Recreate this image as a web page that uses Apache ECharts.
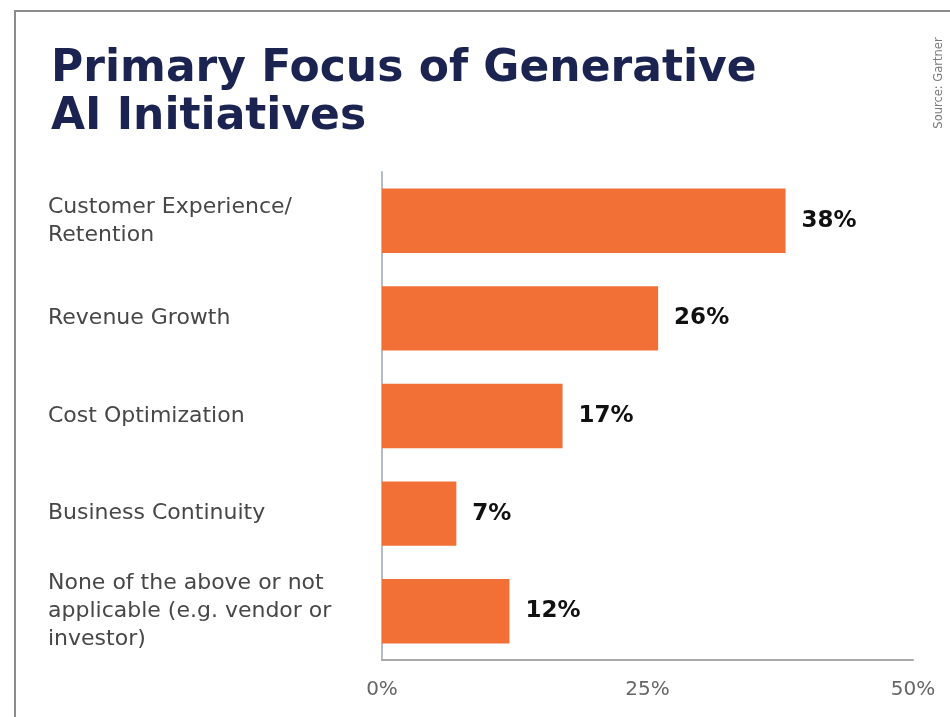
<!DOCTYPE html>
<html>
<head>
<meta charset="utf-8">
<style>
  html, body { margin: 0; padding: 0; background: #ffffff; }
  #chart { width: 950px; height: 717px; }
</style>
<script src="https://cdn.jsdelivr.net/npm/echarts@6/dist/echarts.min.js"></script>
</head>
<body>
<div id="chart"></div>
<script>
// Survey answers: primary focus of generative AI initiatives (share of respondents, %)
const categories = [
  'Customer Experience/\nRetention',
  'Revenue Growth',
  'Cost Optimization',
  'Business Continuity',
  'None of the above or not\napplicable (e.g. vendor or\ninvestor)'
];
const shares = [38, 26, 17, 7, 12];
const axisTicks = [0, 25, 50];

const NAVY = '#1b2350';
const ORANGE = '#f26f36';

const chart = echarts.init(document.getElementById('chart'), null, { renderer: 'canvas' });

chart.setOption({
  backgroundColor: '#ffffff',
  animation: false,
  title: {
    text: 'Primary Focus of Generative\nAI Initiatives',
    left: 46,
    top: 41,
    textStyle: {
      fontFamily: 'DejaVu Sans',
      fontWeight: 'bold',
      fontSize: 44,
      lineHeight: 48,
      color: NAVY
    }
  },
  graphic: [
    {
      type: 'rect',
      shape: { x: 15, y: 11, width: 960, height: 730 },
      style: { fill: 'none', stroke: '#8c8c8c', lineWidth: 2 },
      silent: true
    },
    {
      type: 'text',
      x: 939,
      y: 83,
      rotation: Math.PI / 2,
      style: {
        text: 'Source: Gartner',
        fontFamily: 'DejaVu Sans',
        fontSize: 11.5,
        fill: '#7a7a7a',
        align: 'center',
        verticalAlign: 'middle'
      },
      silent: true
    }
  ],
  grid: {
    left: 382,
    right: 37,
    top: 172,
    bottom: 57,
    containLabel: false
  },
  xAxis: {
    type: 'value',
    min: axisTicks[0],
    max: axisTicks[axisTicks.length - 1],
    interval: axisTicks[1] - axisTicks[0],
    axisLine: { show: true, lineStyle: { color: '#a9a9a9', width: 2 } },
    axisTick: { show: false },
    splitLine: { show: false },
    axisLabel: {
      margin: 20,
      formatter: v => v + '%',
      fontFamily: 'DejaVu Sans',
      fontSize: 20,
      color: '#666666'
    }
  },
  yAxis: {
    type: 'category',
    inverse: true,
    data: categories,
    axisLine: { show: true, lineStyle: { color: '#b4bccb', width: 2 } },
    axisTick: { show: false },
    axisLabel: {
      align: 'left',
      margin: 334,
      fontFamily: 'DejaVu Sans',
      fontSize: 22,
      lineHeight: 28,
      color: '#474747'
    }
  },
  series: [
    {
      type: 'bar',
      data: shares,
      barCategoryGap: '34%',
      itemStyle: { color: ORANGE },
      label: {
        show: true,
        position: 'right',
        distance: 16,
        formatter: p => p.value + '%',
        fontFamily: 'DejaVu Sans',
        fontWeight: 'bold',
        fontSize: 23,
        color: '#111111'
      }
    }
  ]
});
</script>
</body>
</html>
